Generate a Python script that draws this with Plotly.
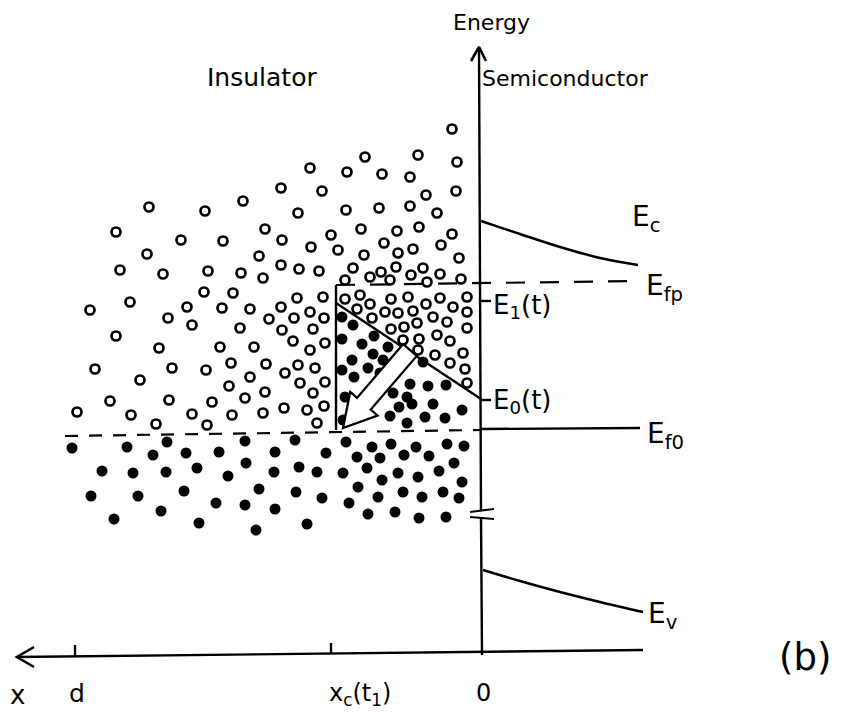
import math
import plotly.graph_objects as go

# ---------------- data (diagram coordinates: x to the right, y downward) ----------------
# empty (open) trap states in the insulator
open_left = [(281,188),(149,207),(205,211),(243,201),(298,213),
             (116,232),(181,240),(223,241),(265,229),(282,240),
             (147,254),(259,256),(120,270),(163,274),(208,271),(241,273),(263,278),(281,265),(299,269),
             (204,292),(233,293),(130,302),(90,310),(187,307),(222,308),(250,309),(281,307),(297,298),
             (168,318),(192,325),(240,328),(269,319),(282,330),(294,318),
             (116,336),(159,348),(220,347),(254,347),(293,341),
             (95,369),(172,368),(206,370),(231,363),(266,364),(285,373),(298,365),
             (140,380),(250,377),(229,386),(300,383),(265,392),
             (110,401),(169,400),(212,402),(245,398),(284,408),
             (77,412),(131,415),(192,414),(232,415),(263,413),
             (156,424),(207,425)]
open_right = [(452,129),(365,157),(418,155),(457,162),(310,168),(347,172),(382,174),(410,177),
              (322,191),(426,195),(456,191),
              (346,210),(379,208),(410,206),(437,213),
              (331,235),(361,229),(397,231),(419,227),(452,234),
              (311,247),(338,250),(384,243),(398,253),(413,249),(441,245),(364,255),(459,258),
              (319,271),(353,268),(381,272),(396,267),(423,268),(440,274),
              (345,280),(370,277),(390,280),(411,275),(427,282),(461,279),
              (323,297),(345,299),(360,295),(391,299),(408,297),(440,298),(467,297)]
open_near = [(310,312),(324,318),(357,309),(370,304),(385,312),(398,313),(413,311),(426,304),
             (453,307),(467,312),(372,318),(433,317),(447,322),
             (313,329),(391,329),(404,327),(417,323),(467,328),(437,335),
             (325,343),(403,340),(419,339),(450,341),
             (310,350),(418,350),(435,355),(463,353),
             (315,368),(450,363),(465,369),
             (325,382),(467,383),
             (313,393),(324,406),(307,410),(317,423)]
# filled trap states
filled_tri = [(342,317),(353,325),(342,339),(374,336),(362,344),(388,347),(352,360),(373,354),
              (383,360),(342,370),(368,368),(354,377),(380,373),(423,362),(410,384),(428,386),
              (446,385),(345,397),(393,393),(407,397),(433,404),(399,407),(412,404),(462,410),
              (390,416),(425,417),(445,418),(407,423),(343,420)]
filled_low = [(72,448),(127,447),(153,455),(167,442),(186,453),(219,452),(245,441),(275,452),
              (295,440),(326,453),(346,442),(357,457),(372,447),(380,458),(391,444),(404,455),
              (416,447),(429,456),(447,444),(464,446),
              (102,471),(133,473),(166,472),(197,468),(228,476),(246,463),(274,472),(299,467),
              (317,472),(343,473),(367,468),(382,480),(398,473),(418,477),(439,471),(454,463),(462,482),
              (91,496),(138,496),(184,491),(216,503),(245,505),(259,489),(275,509),(296,492),
              (322,498),(349,503),(358,487),(378,497),(403,492),(422,497),(443,492),(459,498),
              (114,519),(161,511),(199,523),(256,530),(307,524),(368,514),(395,512),(419,518),(446,517)]

# band / level lines
E_c = [(481,221),(520,234),(560,247),(600,258),(638,265)]
E_v = [(483,570),(520,581),(560,592),(600,602),(643,612)]
E_f0_ins = [(65,436),(481,430)]
E_f0_sem = [(481,429),(640,428)]
E_fp = [(336,285),(640,281)]
E_0 = [(336,303),(481,399)]
E_1_tick = [(481,301),(491,301)]
E_0_tick = [(481,400),(491,400)]
x_c_line = [(336,285),(336,430)]
energy_axis_top = [(479,47),(481,510)]
energy_axis_bot = [(481,517),(482,655)]
x_axis = [(17,657),(643,650)]
tick_d = [(75,645),(75,656)]
tick_xc = [(331,643),(331,654)]

labels = [
    ("Energy", 491, 22, 22, "center"),
    ("Insulator", 262, 77, 25, "center"),
    ("Semiconductor", 565, 78, 22, "center"),
    ("E<sub>c</sub>", 630, 218, 28, "left"),
    ("E<sub>fp</sub>", 644, 287, 28, "left"),
    ("E<sub>1</sub>(t)", 491, 306, 26, "left"),
    ("E<sub>0</sub>(t)", 491, 401, 26, "left"),
    ("E<sub>f0</sub>", 645, 435, 28, "left"),
    ("E<sub>v</sub>", 646, 615, 28, "left"),
    ("(b)", 805, 657, 37, "center"),
    ("x", 17, 695, 26, "center"),
    ("d", 77, 693, 25, "center"),
    ("x<sub>c</sub>(t<sub>1</sub>)", 327, 694, 24, "left"),
    ("0", 483, 693, 24, "center"),
]

FONT = "DejaVu Sans"
K = "black"
OFF = 8  # the page body offsets the plot by 8 px

fig = go.Figure()

def xs(p): return [a for a, b in p]
def ys(p): return [b for a, b in p]

def line(p, w=2.4, dash="solid", shape="linear"):
    fig.add_trace(go.Scatter(x=xs(p), y=ys(p), mode="lines", hoverinfo="skip",
                             line=dict(color=K, width=w, dash=dash, shape=shape)))

for seg in (E_c, E_v):
    line(seg, shape="spline")
line(E_f0_ins, w=2.2, dash="13px,11px")
line(E_f0_sem)
line(E_fp, w=2.2, dash="19px,15px")
for seg in (E_0, E_1_tick, E_0_tick, x_c_line, energy_axis_top, energy_axis_bot, x_axis, tick_d, tick_xc):
    line(seg)

# break marks on the energy axis
line([(470,512),(494,509)], w=2.2)
line([(470,517),(494,519)], w=2.2)

# axis arrow heads
ax_tip = energy_axis_top[0]
line([(ax_tip[0]-8, ax_tip[1]+14), ax_tip, (ax_tip[0]+7, ax_tip[1]+14)], w=2.6)
xt = x_axis[0]
line([(xt[0]+17, xt[1]-10), xt, (xt[0]+17, xt[1]+10)], w=2.6)

open_all = open_left + open_right + open_near
fig.add_trace(go.Scatter(x=xs(open_all), y=ys(open_all), mode="markers", hoverinfo="skip",
                         marker=dict(symbol="circle-open", size=9, color=K, line=dict(width=2.7, color=K))))
filled_all = filled_tri + filled_low
fig.add_trace(go.Scatter(x=xs(filled_all), y=ys(filled_all), mode="markers", hoverinfo="skip",
                         marker=dict(symbol="circle", size=11, color=K, line=dict(width=0))))

# hollow arrow (emission of trapped charge)
tail = (410.0, 350.0)
tip = (343.0, 428.0)
half_shaft, head_len, half_head = 9.0, 32.0, 18.0
dx, dy = tip[0]-tail[0], tip[1]-tail[1]
L = math.hypot(dx, dy)
ux, uy = dx/L, dy/L
nx, ny = -uy, ux
bx, by = tip[0]-ux*head_len, tip[1]-uy*head_len
pts = [(tail[0]+nx*half_shaft, tail[1]+ny*half_shaft),
       (bx+nx*half_shaft, by+ny*half_shaft),
       (bx+nx*half_head, by+ny*half_head),
       tip,
       (bx-nx*half_head, by-ny*half_head),
       (bx-nx*half_shaft, by-ny*half_shaft),
       (tail[0]-nx*half_shaft, tail[1]-ny*half_shaft)]
path = "M " + " L ".join(f"{a:.1f},{b:.1f}" for a, b in pts) + " Z"
fig.add_shape(type="path", path=path, xref="x", yref="y", fillcolor="white",
              line=dict(color=K, width=2.3), layer="above")

for txt, x, y, sz, anc in labels:
    fig.add_annotation(x=x, y=y, xref="x", yref="y", text=txt, showarrow=False,
                       xanchor=anc, yanchor="middle", font=dict(family=FONT, size=sz, color=K))

fig.update_layout(width=846 - OFF, height=712 - OFF, margin=dict(l=0, r=0, t=0, b=0),
                  paper_bgcolor="white", plot_bgcolor="white", showlegend=False,
                  xaxis=dict(range=[OFF, 846], visible=False, fixedrange=True),
                  yaxis=dict(range=[712, OFF], visible=False, fixedrange=True))
fig.write_html("out.html")
